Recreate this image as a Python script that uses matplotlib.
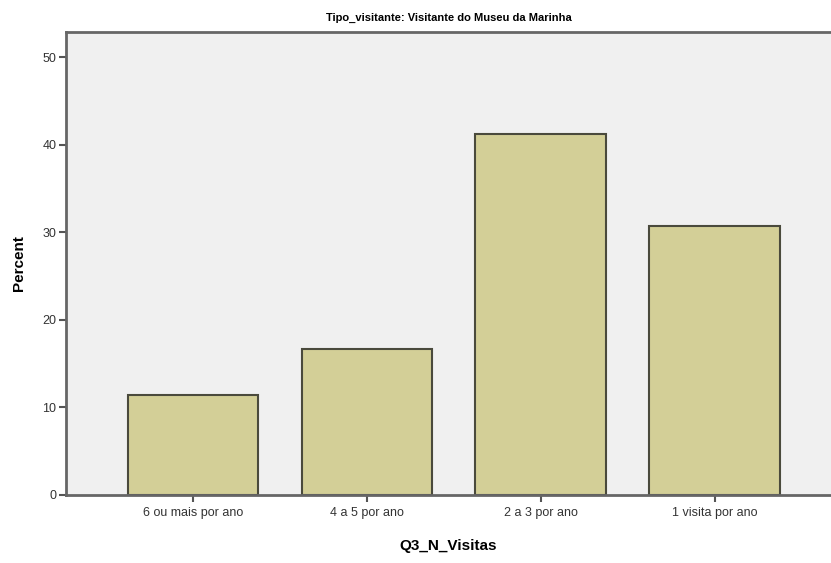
import matplotlib
matplotlib.use('Agg')
import matplotlib.pyplot as plt

plt.rcParams['font.family'] = ['Liberation Sans Narrow', 'Liberation Sans', 'DejaVu Sans']

# 数据
categorias = ['6 ou mais por ano', '4 a 5 por ano', '2 a 3 por ano', '1 visita por ano']
percentagens = [11.4, 16.7, 41.2, 30.7]
yticks = [0, 10, 20, 30, 40, 50]

fig = plt.figure(figsize=(8.31, 5.63), dpi=100)
ax = fig.add_axes([0.0794, 0.1208, 0.9206, 0.8224])
ax.set_facecolor('#f0f0f0')

x = range(len(categorias))
ax.bar(x, percentagens, width=0.75, color='#d3cf97', edgecolor='#4a4a3c', linewidth=1.5, zorder=2)

ax.set_xlim(-0.73, 3.67)
ax.set_ylim(0, 52.9)
ax.set_xticks(list(x))
ax.set_xticklabels(categorias, fontsize=9, color='#333333')
ax.set_yticks(yticks)
ax.set_yticklabels([str(v) for v in yticks], fontsize=9, color='#333333')
ax.tick_params(axis='both', colors='#555555', width=1.5, length=5)
ax.tick_params(axis='x', labelcolor='#333333', pad=4)
ax.tick_params(axis='y', labelcolor='#333333', pad=2)

for s in ['left', 'bottom', 'top']:
    ax.spines[s].set_color('#666666')
    ax.spines[s].set_linewidth(2)
ax.spines['right'].set_visible(False)

ax.set_ylabel('Percent', fontsize=11, fontweight='bold', labelpad=12)
ax.set_xlabel('Q3_N_Visitas', fontsize=11, fontweight='bold', labelpad=14)
ax.set_title('Tipo_visitante: Visitante do Museu da Marinha', fontsize=8, fontweight='bold', pad=8)

fig.savefig('out.png', dpi=100)
